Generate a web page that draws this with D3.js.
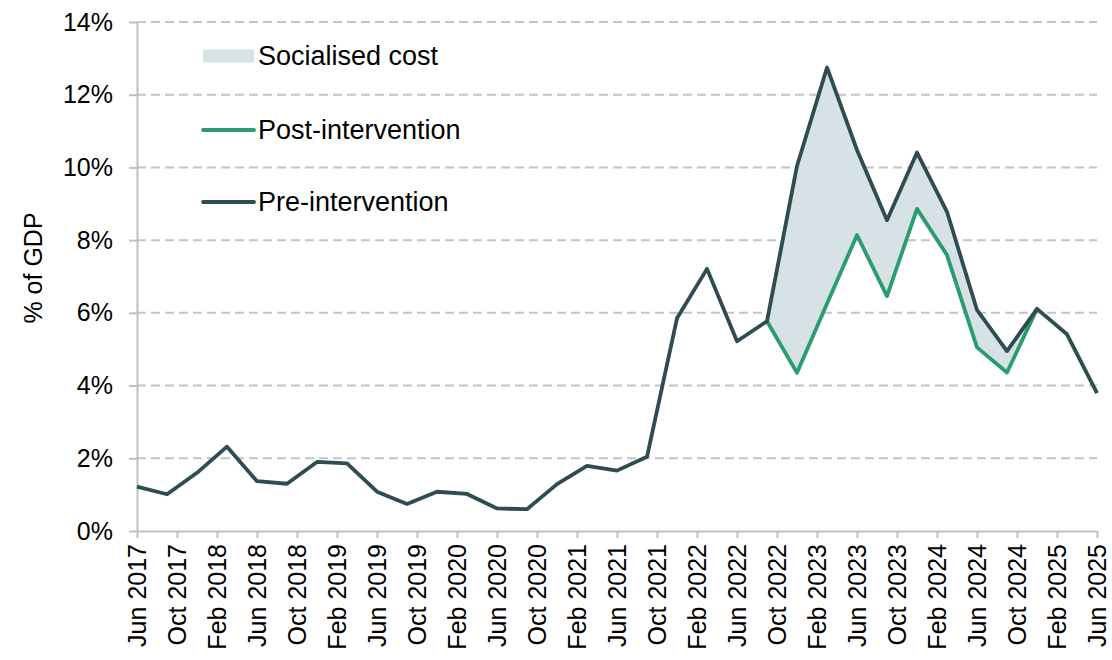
<!DOCTYPE html>
<html>
<head>
<meta charset="utf-8">
<script src="https://cdn.jsdelivr.net/npm/d3@7"></script>
<style>
  body { margin: 0; background: #fff; }
  svg { display: block; font-family: "Liberation Sans", Arial, sans-serif; }
</style>
</head>
<body>
<svg></svg>
<script>
// quarterly observations
const quarters = [
  "Jun 2017","Sep 2017","Dec 2017","Mar 2018","Jun 2018","Sep 2018","Dec 2018","Mar 2019",
  "Jun 2019","Sep 2019","Dec 2019","Mar 2020","Jun 2020","Sep 2020","Dec 2020","Mar 2021",
  "Jun 2021","Sep 2021","Dec 2021","Mar 2022","Jun 2022","Sep 2022","Dec 2022","Mar 2023",
  "Jun 2023","Sep 2023","Dec 2023","Mar 2024","Jun 2024","Sep 2024","Dec 2024","Mar 2025",
  "Jun 2025"
];
const preIntervention = [
  1.22, 1.01, 1.60, 2.32, 1.37, 1.30, 1.90, 1.86,
  1.08, 0.74, 1.08, 1.02, 0.62, 0.60, 1.29, 1.79,
  1.66, 2.04, 5.85, 7.21, 5.22, 5.77, 10.04, 12.75,
  10.48, 8.55, 10.41, 8.78, 6.08, 4.95, 6.11, 5.41,
  3.79
];
const postQuarters = [
  "Sep 2022","Dec 2022","Mar 2023","Jun 2023","Sep 2023",
  "Dec 2023","Mar 2024","Jun 2024","Sep 2024","Dec 2024"
];
const postIntervention = [5.77, 4.35, 6.25, 8.14, 6.46, 8.86, 7.59, 5.05, 4.36, 6.11];

const xTickLabels = [
  "Jun 2017","Oct 2017","Feb 2018","Jun 2018","Oct 2018","Feb 2019","Jun 2019","Oct 2019",
  "Feb 2020","Jun 2020","Oct 2020","Feb 2021","Jun 2021","Oct 2021","Feb 2022","Jun 2022",
  "Oct 2022","Feb 2023","Jun 2023","Oct 2023","Feb 2024","Jun 2024","Oct 2024","Feb 2025",
  "Jun 2025"
];
const yTicks = [0, 2, 4, 6, 8, 10, 12, 14];
const legendItems = ["Socialised cost", "Post-intervention", "Pre-intervention"];

const canvasWidth = 1112;
const canvasHeight = 660;
const plotLeft = 137, plotRight = 1097, plotTop = 22, plotBottom = 531;

const preColor = "#2e4c51";
const postColor = "#2b9b70";
const fillColor = "#d6e2e6";
const gridColor = "#c4c4c4";
const axisColor = "#bfbfbf";
const tickFont = "25px";
const lineWidth = 3.8;

const parse = d3.timeParse("%b %Y");
function monthIndex(s) {
  var d = parse(s);
  return (d.getFullYear() - 2017) * 12 + d.getMonth() - 5;
}

var x = d3.scaleLinear().domain([0, 96]).range([plotLeft, plotRight]);
var y = d3.scaleLinear().domain([0, 14]).range([plotBottom, plotTop]);

var svg = d3.select("svg").attr("width", canvasWidth).attr("height", canvasHeight);

// gridlines
svg.append("g").selectAll("line").data(yTicks.filter(d => d > 0)).enter()
  .append("line")
  .attr("x1", plotLeft).attr("x2", plotRight)
  .attr("y1", d => y(d)).attr("y2", d => y(d))
  .style("stroke", gridColor)
  .style("stroke-width", 2)
  .style("stroke-dasharray", "9,5");

var pre = quarters.map((q, i) => ({ m: monthIndex(q), v: preIntervention[i] }));
var preByMonth = {};
pre.forEach(d => preByMonth[d.m] = d.v);
var post = postQuarters.map((q, i) => ({ m: monthIndex(q), v: postIntervention[i], p: preByMonth[monthIndex(q)] }));

// socialised cost area
svg.append("path")
  .datum(post)
  .attr("d", d3.area().x(d => x(d.m)).y0(d => y(d.v)).y1(d => y(d.p)))
  .style("fill", fillColor);

// axes
var yAxis = svg.append("g")
  .attr("transform", "translate(" + plotLeft + ",0)")
  .call(d3.axisLeft(y).tickValues(yTicks).tickFormat(d => d + "%").tickSizeInner(8).tickSizeOuter(0).tickPadding(16));
var xAxis = svg.append("g")
  .attr("transform", "translate(0," + plotBottom + ")")
  .call(d3.axisBottom(x).tickValues(xTickLabels.map(monthIndex)).tickFormat("").tickSizeInner(7).tickSizeOuter(0));
[yAxis, xAxis].forEach(function(a) {
  a.selectAll("path, line").style("stroke", axisColor).style("stroke-width", 2);
});
yAxis.attr("font-family", null);
yAxis.selectAll("text").style("font-size", tickFont).style("fill", "#000");

svg.append("g").selectAll("text").data(xTickLabels).enter()
  .append("text")
  .text(d => d)
  .attr("transform", d => "translate(" + x(monthIndex(d)) + "," + (plotBottom + 13) + ") rotate(-90)")
  .attr("text-anchor", "end")
  .attr("dy", "0.35em")
  .style("font-size", tickFont)
  .style("fill", "#000");

svg.append("text")
  .text("% of GDP")
  .attr("transform", "translate(33,268) rotate(-90)")
  .attr("text-anchor", "middle")
  .attr("dy", "0.35em")
  .style("font-size", tickFont)
  .style("fill", "#000");

// lines
var line = d3.line().x(d => x(d.m)).y(d => y(d.v));
svg.append("path").datum(post).attr("d", line)
  .style("fill", "none").style("stroke", postColor).style("stroke-width", lineWidth).style("stroke-linejoin", "round");
svg.append("path").datum(pre).attr("d", line)
  .style("fill", "none").style("stroke", preColor).style("stroke-width", lineWidth).style("stroke-linejoin", "round");

// legend
var legend = svg.append("g");
var legendY = [56, 130, 202];
legend.append("rect")
  .attr("x", 203).attr("y", legendY[0] - 6.5).attr("width", 51).attr("height", 13)
  .style("fill", fillColor);
legend.selectAll("line").data([postColor, preColor]).enter()
  .append("line")
  .attr("x1", 203).attr("x2", 254)
  .attr("y1", (d, i) => legendY[i + 1]).attr("y2", (d, i) => legendY[i + 1])
  .style("stroke", d => d).style("stroke-width", lineWidth).style("stroke-linecap", "round");
legend.selectAll("text").data(legendItems).enter()
  .append("text")
  .text(d => d)
  .attr("x", 258)
  .attr("y", (d, i) => legendY[i])
  .attr("dy", "0.35em")
  .style("font-size", "27px")
  .style("fill", "#000");
</script>
</body>
</html>
